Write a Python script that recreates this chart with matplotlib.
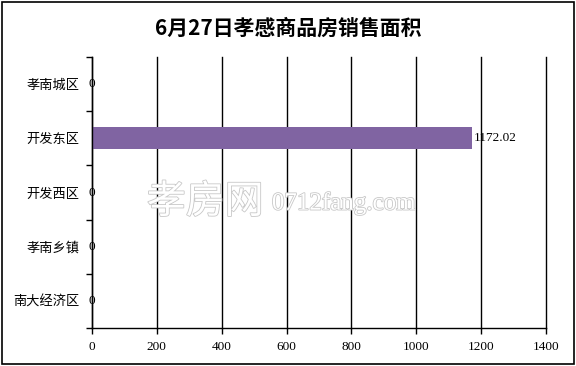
import matplotlib
matplotlib.use("Agg")
import matplotlib.pyplot as plt
import matplotlib.patheffects as pe
from matplotlib.patches import Rectangle
from matplotlib.ticker import FixedLocator

plt.rcParams['font.family'] = ['Noto Sans CJK SC', 'DejaVu Sans']

# ---------------------- Data ----------------------
title = "6月27日孝感商品房销售面积"
districts = ["孝南城区", "开发东区", "开发西区", "孝南乡镇", "南大经济区"]
areas = [0, 1172.02, 0, 0, 0]
x_ticks = [0, 200, 400, 600, 800, 1000, 1200, 1400]

bar_color = "#8064A2"

# ---------------------- Figure ----------------------
fig = plt.figure(figsize=(5.76, 3.66), dpi=100)
fig.patches.append(Rectangle((0.004, 0.006), 0.992, 0.989, transform=fig.transFigure,
                             fill=False, edgecolor="black", linewidth=1.2))

ax = fig.add_axes([0.1597, 0.1038, 0.788, 0.7404])
ypos = list(range(len(districts)))
ax.barh(ypos, areas, height=0.4, color=bar_color, zorder=3)

ax.set_xlim(0, 1400)
ax.set_ylim(len(districts) - 0.5, -0.5)
ax.set_xticks(x_ticks)
ax.set_xticklabels([str(t) for t in x_ticks], family="Liberation Serif", fontsize=9.5)
ax.set_yticks(ypos)
ax.set_yticklabels(districts, fontsize=9.5)
ax.yaxis.set_minor_locator(FixedLocator([i - 0.5 for i in range(len(districts) + 1)]))
ax.tick_params(axis="y", which="major", length=0, pad=9)
ax.tick_params(axis="y", which="minor", length=4, width=1, direction="out")
ax.tick_params(axis="x", length=4, width=1, direction="out", pad=5)

ax.grid(axis="x", color="black", linewidth=1, zorder=1)
for gl in ax.get_xgridlines():
    gl.set_clip_on(False)
for s in ("top", "right"):
    ax.spines[s].set_visible(False)
for s in ("left", "bottom"):
    ax.spines[s].set_linewidth(1)
    ax.spines[s].set_zorder(4)

# data labels
for y, v in zip(ypos, areas):
    label = f"{v:g}" if v == 0 else f"{v:.2f}"
    if v == 0:
        ax.annotate(label, (v, y), xytext=(0, 0), textcoords="offset points",
                    ha="center", va="center", fontsize=9.5, family="Liberation Serif", zorder=5)
    else:
        ax.annotate(label, (v, y), xytext=(1.5, 0), textcoords="offset points",
                    ha="left", va="center", fontsize=9.5, family="Liberation Serif", zorder=5)

# watermark
wm = [pe.withStroke(linewidth=1.2, foreground="#c8c8c8")]
fig.text(0.255, 0.448, "孝房网", fontsize=28, color="white", ha="left", va="center",
         path_effects=wm, zorder=2)
fig.text(0.472, 0.445, "0712fang.com", fontsize=18, color="white", ha="left", va="center",
         family="Liberation Serif", path_effects=wm, zorder=2)

fig.text(0.5, 0.923, title, ha="center", va="center", fontsize=15, fontweight="bold")

fig.savefig("out.png", dpi=100)
